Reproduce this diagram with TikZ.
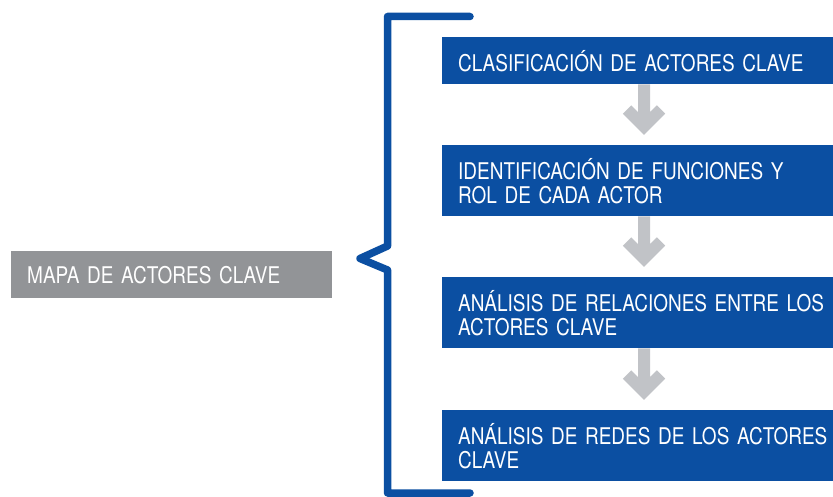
\documentclass[tikz,border=0pt]{standalone}
\usepackage{fontspec}
\setmainfont{TeX Gyre Heros}[FakeStretch=0.825]
\usetikzlibrary{calc}
\definecolor{bblue}{HTML}{0B4FA2}
\definecolor{gbox}{HTML}{929497}
\definecolor{garr}{HTML}{C1C3C7}
\tikzset{
  bluebox/.style={fill=bblue, text=white, anchor=north west, inner xsep=16pt, inner ysep=0pt,
    text width=420pt, align=left, font=\fontsize{23}{24}\selectfont},
  graybox/.style={fill=gbox, text=white, anchor=north west, inner xsep=16pt, inner ysep=0pt,
    text width=289pt, align=left, minimum height=47pt, font=\fontsize{23}{24}\selectfont},
  garrow/.style={draw=garr, line width=12pt, line cap=butt, line join=miter},
  brace/.style={draw=bblue, line width=7.5pt, line cap=round, line join=round}
}
\begin{document}
\begin{tikzpicture}[x=1pt,y=-1pt]
\useasboundingbox (0,0) rectangle (833,497);
\node[graybox] (m) at (11,251) {MAPA DE ACTORES CLAVE};
\node[bluebox, minimum height=47pt] (b1) at (442,37) {CLASIFICACIÓN DE ACTORES CLAVE};
\node[bluebox, minimum height=71pt] (b2) at (442,145) {IDENTIFICACIÓN DE FUNCIONES Y\\ROL DE CADA ACTOR};
\node[bluebox, minimum height=71pt] (b3) at (442,277) {ANÁLISIS DE RELACIONES ENTRE LOS\\ACTORES CLAVE};
\node[bluebox, minimum height=71pt] (b4) at (442,410) {ANÁLISIS DE REDES DE LOS ACTORES\\CLAVE};
% bracket
\coordinate (bt) at (470,16.5);
\coordinate (bb) at (470,493);
\coordinate (tip) at (360,258.5);
\draw[brace] (bt) -- (387.5,16.5) -- (387.5,246) -- (tip) -- (387.5,270) -- (387.5,493) -- (bb);
% arrows (x offset relative to a fixed column at x=644)
\foreach \a/\b in {b1/b2,b2/b3,b3/b4}{
  \draw[garrow] ([xshift=202pt]\a.south west) -- ([xshift=202pt,yshift=18.5pt]\b.north west)
    ([xshift=185pt,yshift=35.5pt]\b.north west) -- ([xshift=202pt,yshift=18.5pt]\b.north west) -- ([xshift=219pt,yshift=35.5pt]\b.north west);
}
\end{tikzpicture}
\end{document}
